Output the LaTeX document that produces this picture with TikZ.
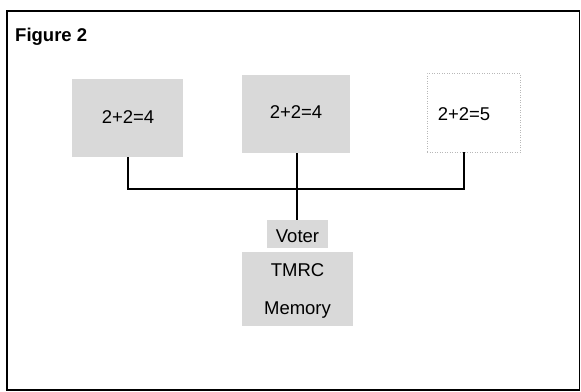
\documentclass[tikz,border=0pt]{standalone}
\usepackage{fontspec}
\setmainfont{Liberation Sans}
\begin{document}
\begin{tikzpicture}[x=1pt,y=-1pt,
  shade/.style={fill=black!15, draw=none, inner sep=0pt},
  lbl/.style={inner sep=0pt, font=\fontsize{18.5}{22}\selectfont, text height=13pt, text depth=0pt},
  conn/.style={draw=black, line width=1.1pt}]
\useasboundingbox (0,0) rectangle (581,391);
\draw[line width=1.3pt] (7,11) rectangle (579.5,390);
\node[lbl, font=\fontsize{18.5}{22}\selectfont\bfseries, anchor=west] (title) at (15,34.5) {Figure 2};
% top boxes
\node[shade, minimum width=111pt, minimum height=78pt] (b1) at (127.5,118) {};
\node[lbl] (t1) at (128,116.5) {2+2=4};
\node[shade, minimum width=108pt, minimum height=78pt] (b2) at (296,114) {};
\node[lbl] (t2) at (296,111.5) {2+2=4};
\node[draw=black!28, dotted, line width=0.5pt, inner sep=0pt, minimum width=93pt, minimum height=79pt] (b3) at (473.5,112.5) {};
\node[lbl] (t3) at (464,113.5) {2+2=5};
% bottom stack
\node[shade, minimum width=61pt, minimum height=28pt] (voter) at (297.5,234) {};
\node[lbl] (tv) at (297.5,236) {Voter};
\node[shade, minimum width=111pt, minimum height=37pt] (tmrc) at (297.5,270.5) {};
\node[lbl] (tt) at (297.5,270) {TMRC};
\node[shade, minimum width=111pt, minimum height=37pt] (mem) at (297.5,307.5) {};
\node[lbl] (tm) at (297.5,307.5) {Memory};
% connectors
\coordinate (j) at (297,189);
\draw[conn] (b1.south -| t1) |- (j) -| (b3.south -| t3);
\draw[conn] (b2.south -| j) -- (voter.north -| j);
\end{tikzpicture}
\end{document}
